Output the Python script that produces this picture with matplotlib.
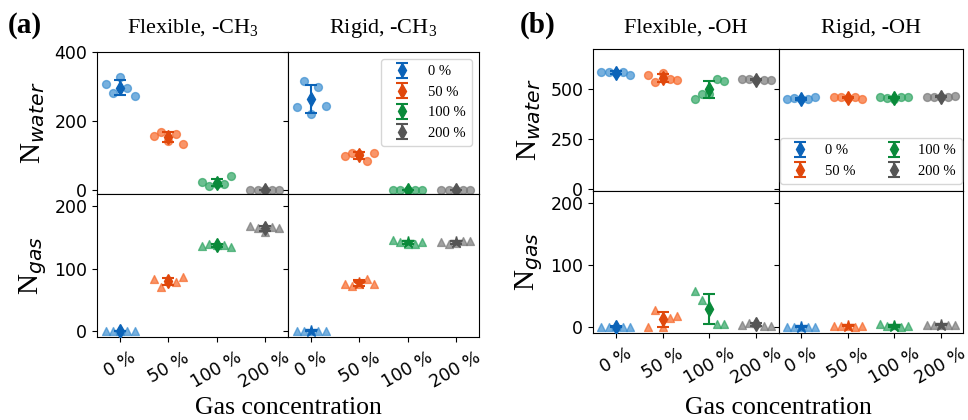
import numpy as np
import matplotlib.pyplot as plt

plt.rcParams['font.family'] = 'DejaVu Sans'
plt.rcParams['xtick.labelsize'] = 12.5
plt.rcParams['ytick.labelsize'] = 12.5
serif = 'Liberation Serif'

# gas concentration categories
cats = ['0 %', '50 %', '100 %', '200 %']

# molecule counts, 5 runs per concentration (rows = 0, 50, 100, 200 %)
water_flex_ch3 = [[306, 282, 327, 297, 274], [156, 169, 142, 164, 135],
                  [24, 11, 18, 17, 40], [1, 0, 2, 0, 1]]
water_rigid_ch3 = [[240, 316, 221, 300, 245], [100, 108, 106, 85, 107],
                   [1, 0, 2, 1, 0], [1, 0, 1, 2, 0]]
gas_flex_ch3 = [[0, 0, 0, 0, 0], [83, 71, 81, 79, 86],
                [137, 139, 138, 138, 134], [169, 165, 159, 167, 165]]
gas_rigid_ch3 = [[0, 0, 0, 0, 0], [76, 72, 76, 84, 75],
                 [146, 143, 139, 140, 143], [143, 139, 141, 144, 144]]

water_flex_oh = [[585, 585, 582, 585, 568], [568, 533, 582, 550, 545],
                 [452, 473, 475, 548, 542], [550, 550, 545, 545, 545]]
water_rigid_oh = [[450, 455, 448, 448, 458], [460, 460, 457, 458, 450],
                  [458, 455, 452, 458, 462], [460, 460, 458, 462, 463]]
gas_flex_oh = [[0, 0, 1, 0, 0], [0, 28, 0, 15, 18],
               [58, 43, 36, 4, 4], [3, 6, 6, 2, 2]]
gas_rigid_oh = [[0, 0, 0, 0, 0], [2, 2, 2, 0, 2],
                [4, 2, 3, 0, 1], [3, 3, 3, 3, 3]]

jitter = np.array([-0.3, -0.15, 0.0, 0.15, 0.3])
point_colors = ['#3d8fd1', '#f7692a', '#2fa562', '#7a7a7a']
mean_colors = ['#0b63b8', '#e0480c', '#0a8a3a', '#555555']

W, H = 968, 420
fig = plt.figure(figsize=(W / 100, H / 100), dpi=100)


def box(x0, y0, x1, y1, **kw):
    # axes from pixel corners (top-left origin)
    return fig.add_axes([x0 / W, 1 - y1 / H, (x1 - x0) / W, (y1 - y0) / H], **kw)


def draw(ax, data, pt_marker, mean_marker, labels=False):
    for i, vals in enumerate(data):
        vals = np.array(vals, dtype=float)
        ax.scatter(i + jitter, vals, s=32, marker=pt_marker, color=point_colors[i],
                   alpha=0.7, linewidths=1, zorder=2)
        ax.errorbar(i, vals.mean(), yerr=vals.std(ddof=1), fmt=mean_marker,
                    color=mean_colors[i], ms=7 if mean_marker == 'd' else 9,
                    capsize=4, elinewidth=1.5, capthick=1.5, zorder=3,
                    label=cats[i] if labels else None)


def panel(xs, ys, data, water_lim, water_ticks, titles, tag, tag_x, leg_kw):
    x0, xm, x1 = xs
    y0, ym, y1 = ys
    w_flex, w_rigid, g_flex, g_rigid = data
    a_wf = box(x0, y0, xm, ym)
    a_wr = box(xm, y0, x1, ym, sharey=a_wf)
    a_gf = box(x0, ym, xm, y1, sharex=a_wf)
    a_gr = box(xm, ym, x1, y1, sharex=a_wr, sharey=a_gf)

    draw(a_wf, w_flex, 'o', 'd')
    draw(a_wr, w_rigid, 'o', 'd', labels=True)
    draw(a_gf, g_flex, '^', 'd')
    draw(a_gr, g_rigid, '^', '*')

    for ax in (a_wf, a_wr, a_gf, a_gr):
        ax.set_xlim(-0.48, 3.48)
        ax.set_xticks(range(4))
    a_wf.set_ylim(*water_lim)
    a_wf.set_yticks(water_ticks)
    a_gf.set_ylim(-10, 220)
    a_gf.set_yticks([0, 100, 200])
    for ax in (a_wf, a_wr):
        ax.tick_params(labelbottom=False)
    for ax in (a_wr, a_gr):
        ax.tick_params(labelleft=False)
    for ax in (a_gf, a_gr):
        ax.set_xticklabels(cats, rotation=30)
        ax.tick_params(axis='x', pad=5)

    leg = a_wr.legend(prop={'family': serif, 'size': 10.5}, **leg_kw)
    leg.get_frame().set_edgecolor('#cccccc')

    # titles, tag and labels
    fig.text((x0 + xm) / 2 / W, 1 - 33 / H, titles[0], family=serif, size=16,
             ha='center', va='baseline')
    fig.text((xm + x1) / 2 / W, 1 - 33 / H, titles[1], family=serif, size=16,
             ha='center', va='baseline')
    fig.text(tag_x / W, 1 - 33 / H, tag, family=serif, size=21, weight='bold',
             ha='left', va='baseline')
    ylab_x = (x0 - 64) / W
    fig.text(ylab_x, 1 - (y0 + ym) / 2 / H, 'N$_{water}$', family=serif, size=21,
             rotation=90, ha='center', va='center')
    fig.text(ylab_x, 1 - (ym + y1) / 2 / H, 'N$_{gas}$', family=serif, size=21,
             rotation=90, ha='center', va='center')
    fig.text((x0 + x1) / 2 / W, 1 - 414 / H, 'Gas concentration', family=serif,
             size=18.5, ha='center', va='baseline')


panel((97, 288, 479), (52, 194, 337),
      (water_flex_ch3, water_rigid_ch3, gas_flex_ch3, gas_rigid_ch3),
      (-11, 400), [0, 200, 400],
      ('Flexible, -CH$\\mathregular{_3}$', 'Rigid, -CH$\\mathregular{_3}$'),
      '(a)', 8, dict(loc='upper right'))

panel((593, 779, 963), (49, 191, 333),
      (water_flex_oh, water_rigid_oh, gas_flex_oh, gas_rigid_oh),
      (-10, 700), [0, 250, 500],
      ('Flexible, -OH', 'Rigid, -OH'),
      '(b)', 520, dict(loc='lower center', ncol=2, columnspacing=1.6,
                       handletextpad=0.7))

fig.savefig('out.png', dpi=100)
